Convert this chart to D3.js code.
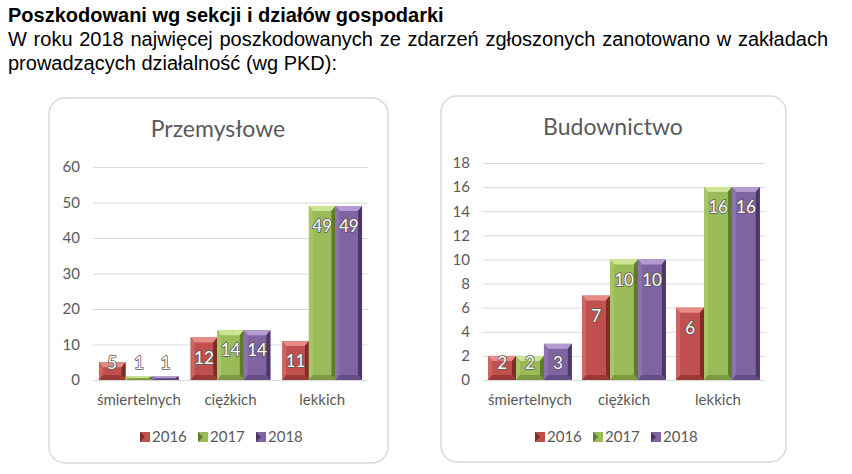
<!DOCTYPE html>
<html><head><meta charset="utf-8">
<script src="https://cdn.jsdelivr.net/npm/d3@7/dist/d3.min.js"></script>
<style>
body{margin:0;background:#fff;width:852px;height:474px;overflow:hidden;position:relative;}
#hdr{position:absolute;left:8px;top:3px;width:820px;font-family:"Liberation Sans",Arial,sans-serif;color:#000;}
#hdr .t{font-weight:bold;font-size:20px;line-height:24px;}
#hdr .p{font-size:20px;line-height:24px;text-align:justify;}
svg{position:absolute;left:0;top:0;}
</style></head><body>
<div id="hdr"><div class="t">Poszkodowani wg sekcji i działów gospodarki</div>
<div class="p">W roku 2018 najwięcej poszkodowanych ze zdarzeń zgłoszonych zanotowano w zakładach prowadzących działalność (wg PKD):</div></div>
<svg id="c" width="852" height="474"></svg>
<script>
const categories = ["śmiertelnych","ciężkich","lekkich"];
const years = ["2016","2017","2018"];
const przemyslowe = { "2016":[5,12,11], "2017":[1,14,49], "2018":[1,14,49] };
const budownictwo = { "2016":[2,7,6], "2017":[2,10,16], "2018":[3,10,16] };
const przemTicks = [0,10,20,30,40,50,60];
const budTicks = [0,2,4,6,8,10,12,14,16,18];

const colors = {
  "2016":{main:"#c0504d",top:"#e58b88",left:"#cc6461",right:"#7d2c2a",bot:"#9a3936"},
  "2017":{main:"#9bbb59",top:"#cde592",left:"#a7c567",right:"#5f7a2b",bot:"#7b9940"},
  "2018":{main:"#8064a2",top:"#b39bd1",left:"#8c72b0",right:"#4b3766",bot:"#654d85"}
};
const FONT = "Lato, 'Open Sans', sans-serif";
const svg = d3.select("#c");

function panel(cfg){
  const g = svg.append("g");
  g.append("rect").attr("x",cfg.box[0]).attr("y",cfg.box[1]).attr("width",cfg.box[2]).attr("height",cfg.box[3])
    .attr("rx",16).attr("fill","#fff").attr("stroke","#d9d9d9").attr("stroke-width",1.5);
  g.append("text").attr("x",cfg.titleX).attr("y",cfg.titleY).attr("text-anchor","middle")
    .attr("font-family",FONT).attr("font-size",23).attr("fill","#595959").text(cfg.title);
  const y = d3.scaleLinear().domain([0,cfg.max]).range([cfg.y0,cfg.y1]);
  const x = d3.scaleBand().domain(categories).range([cfg.x0,cfg.x1]).paddingInner(cfg.pin).paddingOuter(cfg.pout);
  const xs = d3.scaleBand().domain(years).range([0,x.bandwidth()]);
  g.append("g").selectAll("line").data(cfg.ticks).join("line")
    .attr("x1",cfg.x0).attr("x2",cfg.x1).attr("y1",d=>y(d)+0.5).attr("y2",d=>y(d)+0.5)
    .attr("stroke","#d9d9d9").attr("stroke-width",1);
  const ya = d3.axisLeft(y).tickValues(cfg.ticks).tickSize(0).tickPadding(0);
  const ag = g.append("g").attr("transform",`translate(${cfg.labX},0)`).call(ya);
  ag.select(".domain").remove();
  ag.selectAll("text").attr("font-family",FONT).attr("font-size",15).attr("fill","#595959");
  const xa = d3.axisBottom(x).tickSize(0).tickPadding(0);
  const xg = g.append("g").attr("transform",`translate(0,${cfg.y0+14})`).call(xa);
  xg.select(".domain").remove();
  xg.selectAll("text").attr("font-family",FONT).attr("font-size",15).attr("fill","#595959");
  years.forEach(yr=>{
    const c = colors[yr];
    cfg.data[yr].forEach((v,i)=>{
      const bx = x(categories[i]) + xs(yr), bw = xs.bandwidth();
      const top = y(v), bot = y(0), h = bot-top;
      const b = Math.min(5, h/2), s = Math.min(4, bw/4);
      const bg = g.append("g");
      bg.append("rect").attr("x",bx).attr("y",top).attr("width",bw).attr("height",h).attr("fill",c.main);
      bg.append("polygon").attr("points",`${bx},${top} ${bx+bw},${top} ${bx+bw-s},${top+b} ${bx+s},${top+b}`).attr("fill",c.top);
      bg.append("polygon").attr("points",`${bx},${top} ${bx+s},${top+b} ${bx+s},${bot-b} ${bx},${bot}`).attr("fill",c.left);
      bg.append("polygon").attr("points",`${bx+bw},${top} ${bx+bw-s},${top+b} ${bx+bw-s},${bot-b} ${bx+bw},${bot}`).attr("fill",c.right);
      bg.append("polygon").attr("points",`${bx},${bot} ${bx+s},${bot-b} ${bx+bw-s},${bot-b} ${bx+bw},${bot}`).attr("fill",c.bot);
      const ly = Math.min(top+20, bot-17);
      g.append("text").attr("x",bx+bw/2).attr("y",ly).attr("dy","0.36em").attr("text-anchor","middle")
        .attr("font-family",FONT).attr("font-size",17).attr("fill","#fff")
        .attr("stroke","#555").attr("stroke-width",1.6).attr("paint-order","stroke").attr("stroke-linejoin","round")
        .text(v);
    });
  });
  const lg = g.append("g");
  years.forEach((yr,i)=>{
    const lx = cfg.legX + i*58;
    const c = colors[yr];
    lg.append("rect").attr("x",lx).attr("y",cfg.legY-5).attr("width",10).attr("height",10).attr("fill",c.main);
    lg.append("polygon").attr("points",`${lx},${cfg.legY-5} ${lx+5},${cfg.legY} ${lx},${cfg.legY+5}`).attr("fill",c.right);
    lg.append("text").attr("x",lx+12).attr("y",cfg.legY).attr("dy","0.36em")
      .attr("font-family",FONT).attr("font-size",15).attr("fill","#595959").text(yr);
  });
}

panel({box:[49,98,339,365], title:"Przemysłowe", titleX:218, titleY:137, max:60, ticks:przemTicks,
  y0:380, y1:167, x0:93, x1:368, pin:0.13, pout:0.065, labX:80, data:przemyslowe, legX:140, legY:437});
panel({box:[441,96,345,366], title:"Budownictwo", titleX:613, titleY:135, max:18, ticks:budTicks,
  y0:380, y1:163, x0:483, x1:765, pin:0.11, pout:0.055, labX:470, data:budownictwo, legX:535, legY:437});
</script>
</body></html>
